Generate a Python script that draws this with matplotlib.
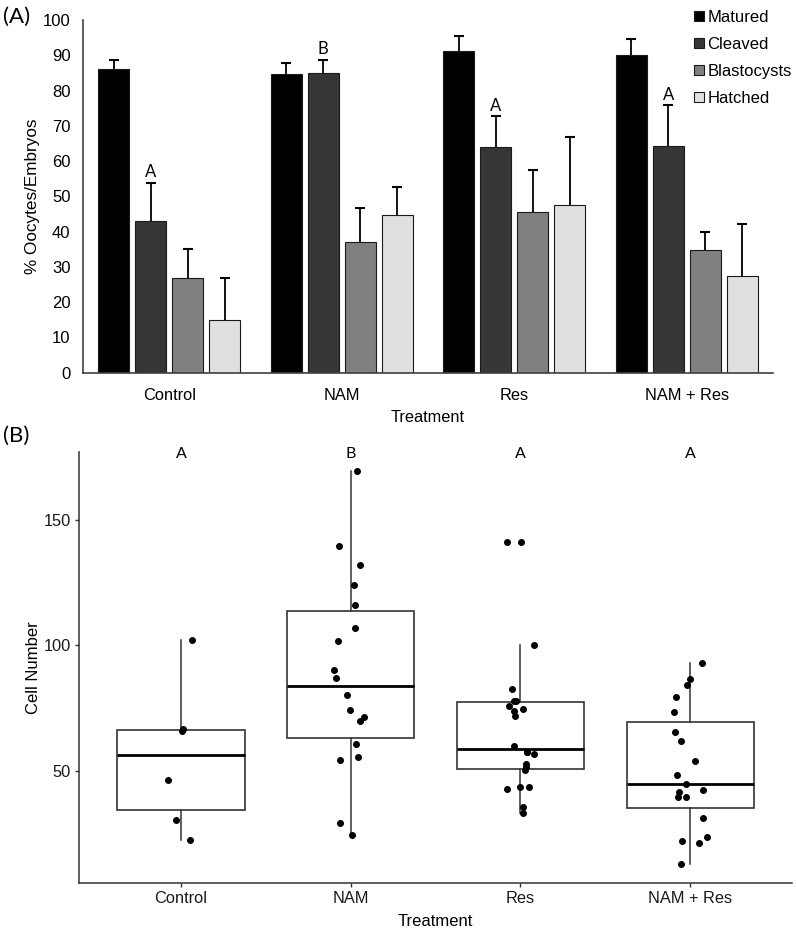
import matplotlib
matplotlib.use("Agg")
import matplotlib.pyplot as plt
import numpy as np

# ---------------- Panel A data ----------------
treatments = ["Control", "NAM", "Res", "NAM + Res"]
stages = ["Matured", "Cleaved", "Blastocysts", "Hatched"]
matured = [86.2, 84.6, 91.2, 90.2]
matured_err = [2.5, 3.2, 4.3, 4.4]
cleaved = [43.0, 84.9, 64.0, 64.4]
cleaved_err = [10.9, 3.9, 8.8, 11.4]
blastocysts = [26.9, 37.1, 45.5, 34.7]
blastocysts_err = [8.2, 9.6, 11.9, 5.3]
hatched = [14.9, 44.7, 47.6, 27.5]
hatched_err = [12.0, 7.9, 19.1, 14.7]
cleaved_letters = ["A", "B", "A", "A"]
a_yticks = [0, 10, 20, 30, 40, 50, 60, 70, 80, 90, 100]

# ---------------- Panel B data ----------------
control_cells = [102.1, 66.0, 66.5, 46.3, 30.4, 22.5]
control_jitter = [0.065, 0.006, 0.014, -0.077, -0.033, 0.053]
nam_cells = [169.5, 139.4, 131.8, 123.9, 115.9, 106.8, 101.7, 90.3, 87.0,
             80.2, 74.4, 71.5, 69.8, 60.6, 55.4, 54.2, 29.2, 24.4]
nam_jitter = [0.035, -0.069, 0.053, 0.018, 0.024, 0.024, -0.077, -0.100, -0.088,
              -0.020, -0.002, 0.078, 0.055, 0.029, 0.041, -0.065, -0.065, 0.006]
res_cells = [141.1, 141.1, 100.0, 82.4, 77.8, 77.8, 75.9, 74.8, 73.7, 72.0,
             59.8, 57.4, 57.4, 56.9, 52.8, 51.6, 50.4, 42.7, 43.5, 43.5, 35.6, 33.4]
res_jitter = [-0.079, 0.004, 0.077, -0.053, -0.039, -0.024, -0.067, 0.015, -0.041, -0.034,
              -0.041, 0.039, 0.040, 0.078, 0.033, 0.033, 0.029, -0.082, -0.004, 0.051, 0.015, 0.015]
namres_cells = [93.0, 86.6, 84.1, 79.4, 73.5, 65.3, 61.8, 53.8, 48.4, 44.7,
                42.2, 41.4, 39.7, 39.5, 31.3, 23.7, 21.9, 21.1, 13.1]
namres_jitter = [0.069, -0.004, -0.020, -0.083, -0.098, -0.089, -0.055, 0.029, -0.075, -0.024,
                 0.074, -0.063, -0.069, -0.024, 0.074, 0.098, -0.047, 0.049, -0.055]
cell_letters = ["A", "B", "A", "A"]
b_yticks = [50, 100, 150]

stage_colors = ["#000000", "#363636", "#808080", "#e0e0e0"]
sans = "Liberation Sans"
calib = "Lato"

fig = plt.figure(figsize=(7.96, 9.30), dpi=100)

# ================= Panel A =================
axA = fig.add_axes([83/796, 1-372.7/930, (773-83)/796, (372.7-20)/930])
x = np.arange(len(treatments)) + 0.5
vals = [matured, cleaved, blastocysts, hatched]
errs = [matured_err, cleaved_err, blastocysts_err, hatched_err]
offsets = [-0.322, -0.107, 0.107, 0.322]
bw = 0.18
handles = []
for i in range(4):
    v = np.array(vals[i]); e = np.array(errs[i])
    b = axA.bar(x + offsets[i], v, width=bw, color=stage_colors[i],
                edgecolor="#1a1a1a", linewidth=0.8, zorder=2, label=stages[i])
    eb = axA.errorbar(x + offsets[i], v, yerr=[np.zeros_like(e), e], fmt="none",
                      ecolor="black", elinewidth=1.3, capsize=3.5, capthick=1.5, zorder=1)
    caps = eb[1]
    if len(caps) >= 2:
        caps[0].set_visible(False)
    handles.append(b)
for j, lab in enumerate(cleaved_letters):
    axA.text(x[j] + offsets[1], cleaved[j] + cleaved_err[j] + 0.6, lab,
             ha="center", va="bottom", fontsize=12, family=calib)
axA.set_xlim(0, 4)
axA.set_ylim(0, 100)
axA.set_yticks(a_yticks)
axA.set_xticks(x)
axA.set_xticklabels(treatments, fontsize=11.8, family=sans)
for t in axA.get_yticklabels():
    t.set_fontsize(12); t.set_family(sans)
axA.tick_params(axis="y", length=0, pad=9)
axA.tick_params(axis="x", length=0, pad=11)
for s in ["top", "right"]:
    axA.spines[s].set_visible(False)
for s in ["left", "bottom"]:
    axA.spines[s].set_color("#404040"); axA.spines[s].set_linewidth(1.2)
axA.set_ylabel("% Oocytes/Embryos", fontsize=12.3, family=sans)
axA.yaxis.set_label_coords(-(83 - 40) / 690, 0.5)
axA.set_xlabel("Treatment", fontsize=11.8, family=sans, labelpad=5)
fig.legend(handles=handles, labels=stages, loc="upper left",
           bbox_to_anchor=(694/796, 1 - 10/930), frameon=False,
           prop={"family": sans, "size": 12}, handlelength=0.6, handleheight=0.6,
           handletextpad=0.2, labelspacing=0.72, borderpad=0, borderaxespad=0)
fig.text(3/796, 1-17/930, "(A)", fontsize=16, family=calib, va="center", ha="left")

# ================= Panel B =================
axB = fig.add_axes([79.3/796, 1-882.7/930, (792-79.3)/796, (882.7-451.7)/930])
groups = [control_cells, nam_cells, res_cells, namres_cells]
jits = [control_jitter, nam_jitter, res_jitter, namres_jitter]
pos = np.arange(1, 5)
axB.boxplot(groups, positions=pos, widths=0.75, showfliers=False, whis=1.5,
            patch_artist=True,
            boxprops=dict(facecolor="white", edgecolor="#333333", linewidth=1.2),
            medianprops=dict(color="black", linewidth=2.0),
            whiskerprops=dict(color="#333333", linewidth=1.1),
            capprops=dict(linewidth=0), zorder=1)
for p, g, j in zip(pos, groups, jits):
    axB.plot(p + np.array(j), g, "o", color="black", markersize=4.0, zorder=3)
for p, lab in zip(pos, cell_letters):
    axB.text(p, 176, lab, ha="center", va="center", fontsize=11.5, family=calib)
axB.set_xlim(0.4, 4.6)
axB.set_ylim(5.5, 177)
axB.set_yticks(b_yticks)
axB.set_xticks(pos)
axB.set_xticklabels(treatments, fontsize=11.8, family=sans)
for t in axB.get_yticklabels():
    t.set_fontsize(11.8); t.set_family(sans)
axB.tick_params(axis="both", length=3, width=1, color="#333333", labelcolor="#1a1a1a", pad=3)
for s in ["top", "right"]:
    axB.spines[s].set_visible(False)
for s in ["left", "bottom"]:
    axB.spines[s].set_color("#333333"); axB.spines[s].set_linewidth(1.1)
axB.set_ylabel("Cell Number", fontsize=12, family=sans)
axB.yaxis.set_label_coords(-(79.3 - 41) / 712.7, 0.5)
axB.set_xlabel("Treatment", fontsize=12, family=sans, labelpad=5.5)
fig.text(3/796, 1-436/930, "(B)", fontsize=16, family=calib, va="center", ha="left")

fig.savefig("out.png", dpi=100)
